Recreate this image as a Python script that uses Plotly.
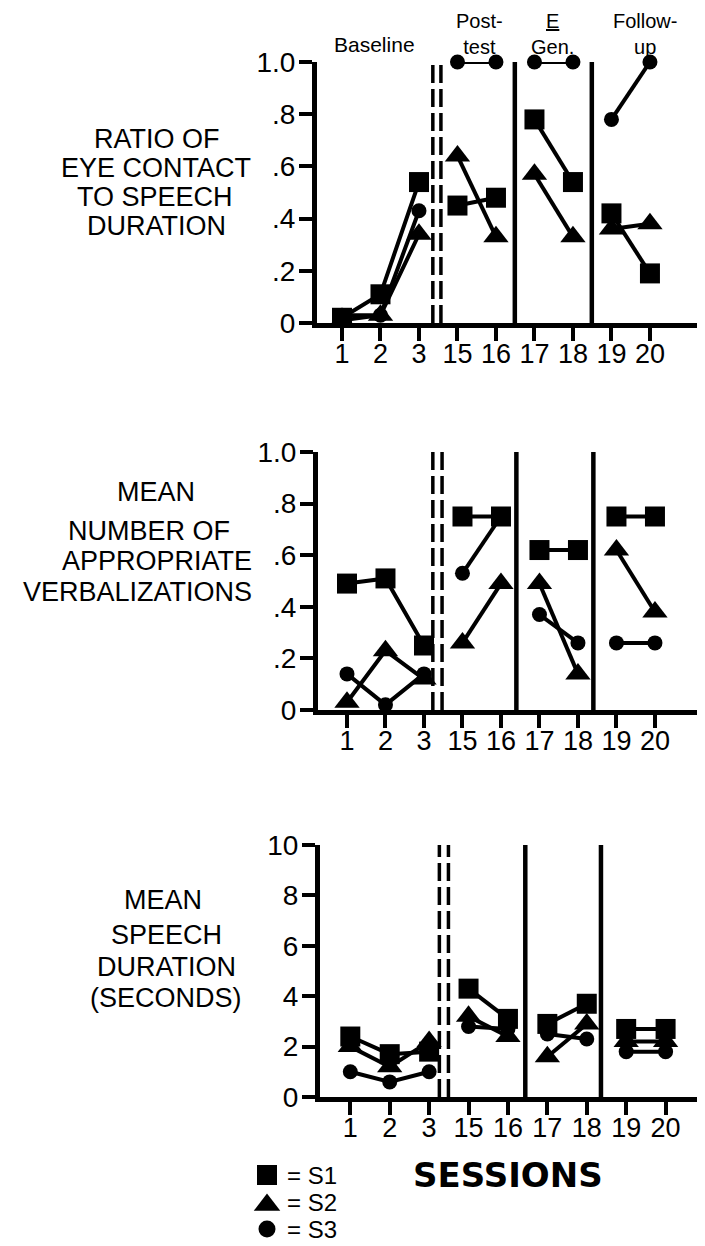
import plotly.graph_objects as go

# page body has an 8px margin: the figure is sized to fill the rest of the window
OFF = 8
W, H = 705 - OFF, 1246 - OFF

# ---------------- data ----------------
sessions = ["1", "2", "3", "15", "16", "17", "18", "19", "20"]
phase_sizes = [3, 2, 2, 2]  # Baseline, Post-test, E Gen., Follow-up

eye_s1 = [0.02, 0.11, 0.54, 0.45, 0.48, 0.78, 0.54, 0.42, 0.19]
eye_s2 = [0.01, 0.03, 0.34, 0.64, 0.33, 0.57, 0.33, 0.36, 0.38]
eye_s3 = [0.03, 0.03, 0.43, 1.00, 1.00, 1.00, 1.00, 0.78, 1.00]

verb_s1 = [0.49, 0.51, 0.25, 0.75, 0.75, 0.62, 0.62, 0.75, 0.75]
verb_s2 = [0.03, 0.23, 0.12, 0.26, 0.49, 0.49, 0.14, 0.62, 0.38]
verb_s3 = [0.14, 0.02, 0.14, 0.53, 0.75, 0.37, 0.26, 0.26, 0.26]

dur_s1 = [2.4, 1.7, 1.8, 4.3, 3.1, 2.9, 3.7, 2.7, 2.7]
dur_s2 = [2.0, 1.2, 2.2, 3.2, 2.4, 1.6, 2.9, 2.2, 2.2]
dur_s3 = [1.0, 0.6, 1.0, 2.8, 2.7, 2.5, 2.3, 1.8, 1.8]

frac_ticks = [0, 0.2, 0.4, 0.6, 0.8, 1.0]
frac_labels = ["0", ".2", ".4", ".6", ".8", "1.0"]
sec_ticks = [0, 2, 4, 6, 8, 10]
sec_labels = ["0", "2", "4", "6", "8", "10"]

subjects = ["S1", "S2", "S3"]

FONT = "Liberation Sans, Arial, sans-serif"


def px(x):
    return (x - OFF) / W


def py(y):
    return 1 - (y - OFF) / H


def segments(vals):
    xs, ys = [], []
    i = 0
    for n in phase_sizes:
        xs += list(range(i, i + n)) + [None]
        ys += vals[i:i + n] + [None]
        i += n
    return xs, ys


fig = go.Figure()

panels = [
    dict(series=(eye_s1, eye_s2, eye_s3), yt=frac_ticks, yl=frac_labels, yr=[0, 1.0],
         xl=317, xr=[-0.649, 9.43], yt_px=62, yb_px=323,
         dashed=[2.36, 2.57], solid=[4.49, 6.49]),
    dict(series=(verb_s1, verb_s2, verb_s3), yt=frac_ticks, yl=frac_labels, yr=[0, 1.0],
         xl=318, xr=[-0.753, 9.30], yt_px=452, yb_px=710,
         dashed=[2.23, 2.47], solid=[4.40, 6.40]),
    dict(series=(dur_s1, dur_s2, dur_s3), yt=sec_ticks, yl=sec_labels, yr=[0, 10],
         xl=320, xr=[-0.769, 9.0], yt_px=845, yb_px=1097,
         dashed=[2.26, 2.49], solid=[4.44, 6.36]),
]

# (subject index, symbol, marker size) — drawn circles first, squares on top
styles = [
    (2, "circle", 15),
    (1, "triangle-up", 22),
    (0, "square", 20),
]

layout = dict(width=W, height=H, margin=dict(l=0, r=0, t=0, b=0, autoexpand=False),
              template="none",
              plot_bgcolor="rgba(0,0,0,0)", paper_bgcolor="white", showlegend=False,
              font=dict(family=FONT, color="black"))
shapes = []

for k, p in enumerate(panels):
    sfx = "" if k == 0 else str(k + 1)
    xa, ya = "x" + sfx, "y" + sfx
    for idx, sym, size in styles:
        xs, ys = segments(p["series"][idx])
        fig.add_trace(go.Scatter(
            x=xs, y=ys, xaxis=xa, yaxis=ya, mode="lines+markers", name=subjects[idx],
            line=dict(color="black", width=4),
            marker=dict(symbol=sym, size=size, color="black", line=dict(width=0)),
            cliponaxis=False, connectgaps=False))
    layout["xaxis" + sfx] = dict(
        domain=[px(p["xl"]), 1], range=p["xr"], anchor=ya, automargin=False,
        tickmode="array", tickvals=list(range(len(sessions))), ticktext=sessions,
        ticks="outside", ticklen=13, tickwidth=4, tickcolor="black",
        ticklabelstandoff=-10,
        showline=True, linewidth=5, linecolor="black",
        showgrid=False, zeroline=False, fixedrange=True,
        tickfont=dict(family=FONT, size=27, color="black"))
    layout["yaxis" + sfx] = dict(
        domain=[py(p["yb_px"]), py(p["yt_px"])], range=p["yr"], anchor=xa, automargin=False,
        tickmode="array", tickvals=p["yt"], ticktext=p["yl"],
        ticks="outside", ticklen=13, tickwidth=4, tickcolor="black",
        ticklabelstandoff=-2,
        showline=True, linewidth=5, linecolor="black",
        showgrid=False, zeroline=False, fixedrange=True,
        tickfont=dict(family=FONT, size=28, color="black"))
    ytop = p["yr"][1]
    for xv in p["dashed"]:
        shapes.append(dict(type="line", xref=xa, yref=ya, x0=xv, x1=xv, y0=0, y1=ytop,
                           line=dict(color="black", width=3.5, dash="18px,6px")))
    for xv in p["solid"]:
        shapes.append(dict(type="line", xref=xa, yref=ya, x0=xv, x1=xv, y0=0, y1=ytop,
                           line=dict(color="black", width=4.5)))

layout["shapes"] = shapes

# key symbols: an invisible overlay axis measured in page pixels
key_y = [1175, 1202, 1229]
key_sym = {0: ("square", 20), 1: ("triangle-up", 23), 2: ("circle", 17)}
for idx in range(3):
    sym, size = key_sym[idx]
    fig.add_trace(go.Scatter(
        x=[267], y=[key_y[idx] + (3 if sym == "triangle-up" else 0)],
        xaxis="x4", yaxis="y4", mode="markers", name=subjects[idx] + " key",
        marker=dict(symbol=sym, size=size, color="black", line=dict(width=0)),
        cliponaxis=False, hoverinfo="skip"))
layout["xaxis4"] = dict(domain=[0, 1], range=[OFF, OFF + W], visible=False,
                        anchor="y4", fixedrange=True, automargin=False)
layout["yaxis4"] = dict(domain=[0, 1], range=[OFF + H, OFF], visible=False,
                        anchor="x4", fixedrange=True, automargin=False)

ann = []


def text(t, x, y, size, xanchor="center", yanchor="middle", family=FONT):
    ann.append(dict(text=t, x=px(x), y=py(y), xref="paper", yref="paper",
                    xanchor=xanchor, yanchor=yanchor, showarrow=False,
                    font=dict(family=family, size=size, color="black")))


# phase headers (two-line headers are single texts anchored at the page top)
text("Baseline", 374, 45, 21)
text("Post-<br>test", 479, OFF, 20, yanchor="top")
text("<u>E</u><br>Gen.", 552, OFF, 20, yanchor="top")
text("Follow-<br>up", 645, OFF, 20, yanchor="top")

# y titles
for t, x, y in [("RATIO OF", 157, 139), ("EYE CONTACT", 156, 168),
                ("TO SPEECH", 155, 197), ("DURATION", 156, 226)]:
    text(t, x, y, 27)
for t, x, y in [("MEAN", 156, 492), ("NUMBER OF", 149, 531),
                ("APPROPRIATE", 157, 561), ("VERBALIZATIONS", 137, 592)]:
    text(t, x, y, 27)
for t, x, y in [("MEAN", 163, 900), ("SPEECH", 166, 935),
                ("DURATION", 166, 967), ("(SECONDS)", 166, 998)]:
    text(t, x, y, 27)

# x title
text("SESSIONS", 508, 1175, 34, family="DejaVu Sans")
ann[-1]["font"]["weight"] = "bold"

# key texts
for lab, y in zip(subjects, key_y):
    text(f"= {lab}", 285, y, 24, xanchor="left")

layout["annotations"] = ann
fig.update_layout(**layout)
fig.write_html("out.html")
